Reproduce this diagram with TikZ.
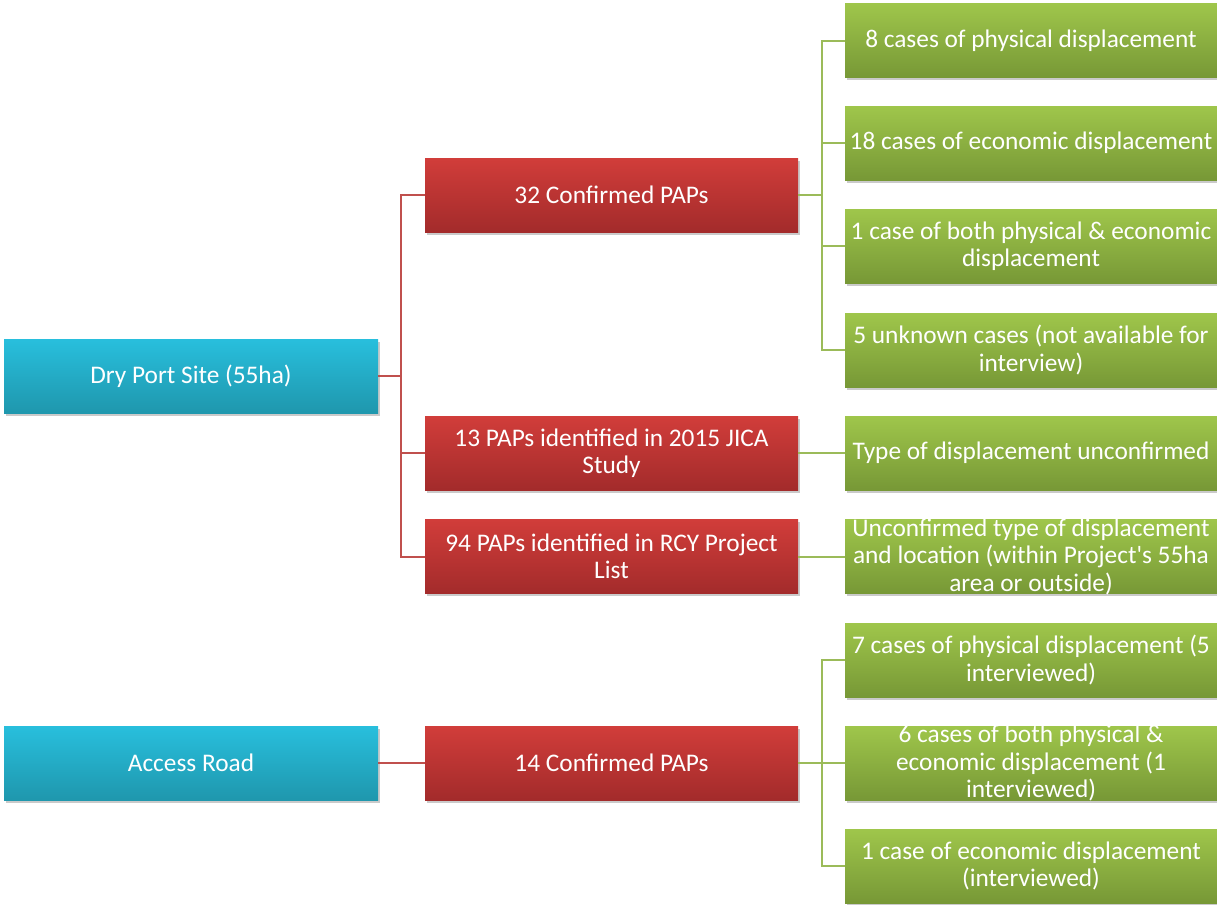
\documentclass[tikz,border=0pt]{standalone}
\usepackage{fontspec}
\setmainfont{Carlito}[Ligatures=TeXOff]
\usetikzlibrary{shadows}
\definecolor{cyanT}{HTML}{28BFDD}
\definecolor{cyanB}{HTML}{1F97AD}
\definecolor{redT}{HTML}{D13D3A}
\definecolor{redB}{HTML}{A32B2B}
\definecolor{grnT}{HTML}{9FC64B}
\definecolor{grnB}{HTML}{779836}
\definecolor{redL}{HTML}{C0504D}
\definecolor{grnL}{HTML}{9BBB59}
\tikzset{
  box/.style={rectangle, inner sep=0pt, minimum height=74*0.75pt,
    drop shadow={shadow xshift=1.5pt, shadow yshift=-2pt, opacity=0.35, fill=black!60}},
  txt/.style={text=white, align=center, font=\fontsize{19}{20.6}\selectfont, inner sep=0pt},
  cbox/.style={box, minimum width=374*0.75pt, top color=cyanT, bottom color=cyanB},
  rbox/.style={box, minimum width=373*0.75pt, top color=redT, bottom color=redB},
  gbox/.style={box, minimum width=372*0.75pt, top color=grnT, bottom color=grnB},
  rline/.style={draw=redL, line width=1.5pt},
  gline/.style={draw=grnL, line width=1.5pt},
  bt/.style={label={[txt]center:{#1}}},
}
\begin{document}
\begin{tikzpicture}[x=0.75pt,y=-0.75pt]
\useasboundingbox (0,0) rectangle (1217,904);
% left
\node[cbox, bt={Dry Port Site (55ha)}] (dp) at (191,376) {};
\node[cbox, bt={Access Road}] (ar) at (191,763) {};
% middle
\node[rbox, bt={32 Confirmed PAPs}] (c32) at (611.5,195) {};
\node[rbox, bt={13 PAPs identified in 2015 JICA\\Study}] (j13) at (611.5,453) {};
\node[rbox, bt={94 PAPs identified in RCY Project\\List}] (r94) at (611.5,556.5) {};
\node[rbox, bt={14 Confirmed PAPs}] (c14) at (611.5,763) {};
% right
\node[gbox, bt={8 cases of physical displacement}] (g1) at (1031,40.5) {};
\node[gbox, bt={18 cases of economic displacement}] (g2) at (1031,143) {};
\node[gbox, bt={1 case of both physical \& economic\\displacement}] (g3) at (1031,246) {};
\node[gbox, bt={5 unknown cases (not available for\\interview)}] (g4) at (1031,350) {};
\node[gbox, bt={Type of displacement unconfirmed}] (g5) at (1031,453) {};
\node[gbox, bt={Unconfirmed type of displacement\\and location (within Project's 55ha\\area or outside)}] (g6) at (1031,556.5) {};
\node[gbox, bt={7 cases of physical displacement (5\\interviewed)}] (g7) at (1031,660) {};
\node[gbox, bt={6 cases of both physical \&\\economic displacement (1\\interviewed)}] (g8) at (1031,763) {};
\node[gbox, bt={1 case of economic displacement\\(interviewed)}] (g9) at (1031,866) {};
% connectors
\draw[rline] (dp.east) -- ++(23,0) |- (c32.west);
\draw[rline] (dp.east) -- ++(23,0) |- (j13.west);
\draw[rline] (dp.east) -- ++(23,0) |- (r94.west);
\draw[rline] (ar.east) -- (c14.west);
\foreach \g in {g1,g2,g3,g4} \draw[gline] (c32.east) -- ++(24,0) |- (\g.west);
\draw[gline] (j13.east) -- (g5.west);
\draw[gline] (r94.east) -- (g6.west);
\foreach \g in {g7,g8,g9} \draw[gline] (c14.east) -- ++(24,0) |- (\g.west);
\end{tikzpicture}
\end{document}
